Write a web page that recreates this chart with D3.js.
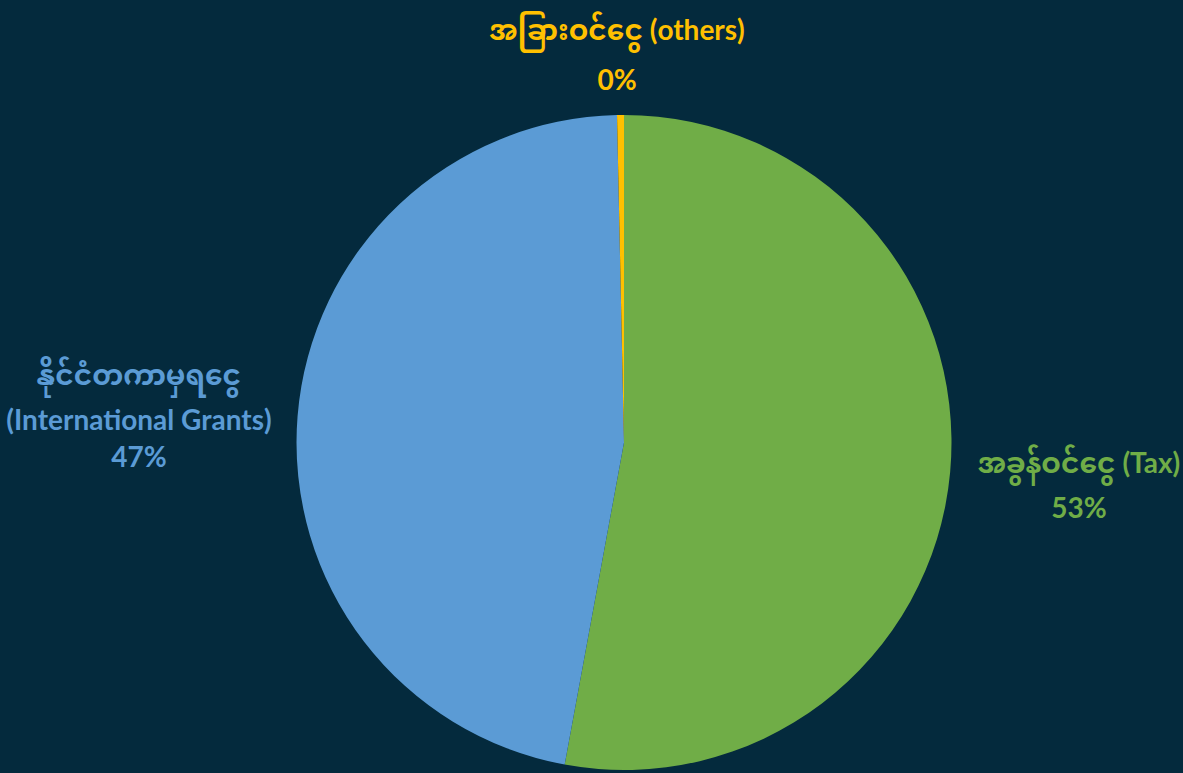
<!DOCTYPE html>
<html>
<head>
<meta charset="utf-8">
<script src="https://cdn.jsdelivr.net/npm/d3@7"></script>
<style>
  body { margin: 0; background: #042a3d; }
  text { font-family: Lato, "Noto Sans", "Noto Sans Myanmar", "Padauk", sans-serif; font-weight: bold; }
</style>
</head>
<body>
<div id="chart"></div>
<script>
// chart values
var categories = ["အခွန်ဝင်ငွေ (Tax)", "နိုင်ငံတကာမှရငွေ (International Grants)", "အခြားဝင်ငွေ (others)"];
var myanmarNames = ["အခွန်ဝင်ငွေ", "နိုင်ငံတကာမှရငွေ", "အခြားဝင်ငွေ"];
var englishNames = ["(Tax)", "(International Grants)", "(others)"];
var shares = [52.9, 46.76, 0.34];
var colors = ["#70ad47", "#5b9bd5", "#ffc000"];

var svgWidth = 1183;
var svgHeight = 773;
var cx = 624, cy = 442.5, radius = 327.5;

var svg = d3.select("#chart").append("svg")
  .attr("width", svgWidth).attr("height", svgHeight);

svg.append("rect").attr("width", svgWidth).attr("height", svgHeight).attr("fill", "#042a3d");

var data = categories.map(function(c, i) {
  return {name: c, mm: myanmarNames[i], en: englishNames[i], value: shares[i], color: colors[i]};
});

// pie starts at 12 o'clock and goes clockwise, as in the original
var pie = d3.pie().sort(null).value(d => d.value);
var arc = d3.arc().innerRadius(0).outerRadius(radius);

var pieGroup = svg.append("g").attr("transform", `translate(${cx}, ${cy})`);
pieGroup.selectAll("path")
  .data(pie(data))
  .enter()
  .append("path")
  .attr("d", arc)
  .attr("fill", d => d.data.color);

// data labels (placed outside end, like the spreadsheet did)
function addLabel(d, lines, x, baselines) {
  var t = svg.append("text")
    .attr("text-anchor", "middle")
    .attr("fill", d.color)
    .attr("font-size", 28);
  lines.forEach(function(line, k) {
    t.append("tspan").attr("x", x).attr("y", baselines[k]).text(line);
  });
}

addLabel(data[0], [data[0].mm + " " + data[0].en, Math.round(data[0].value) + "%"], 1079, [473, 518]);
addLabel(data[1], [data[1].mm, data[1].en, Math.round(data[1].value) + "%"], 139, [385, 430, 467]);
addLabel(data[2], [data[2].mm + " " + data[2].en, Math.round(data[2].value) + "%"], 617, [40, 90]);
</script>
</body>
</html>
